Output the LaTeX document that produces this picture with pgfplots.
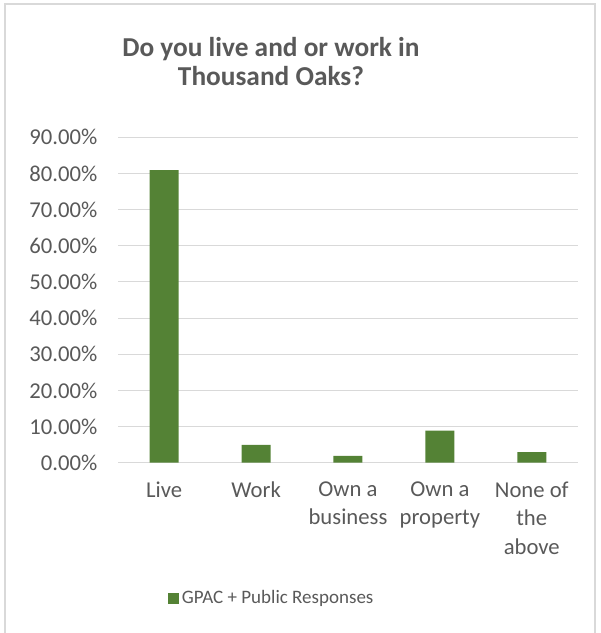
\documentclass[border=0pt]{standalone}
\usepackage{fontspec}
\setmainfont{Carlito}
\usepackage{pgfplots}
\pgfplotsset{compat=1.18}
\definecolor{barg}{HTML}{548235}
\definecolor{txtg}{HTML}{595959}
\definecolor{gridg}{HTML}{D9D9D9}
\begin{document}
\begin{tikzpicture}
\path[use as bounding box] (-88.7pt,-127.7pt) rectangle (361.3pt,347.0pt);
\draw[gridg, line width=1.2pt] (-85pt,-140pt) rectangle (357.5pt,344pt);
\begin{axis}[
  at={(0pt,0pt)}, anchor=south west,
  scale only axis, width=344.55pt, height=244.1pt,
  xmin=-0.5, xmax=4.5, ymin=0, ymax=90,
  xtick={0,1,2,3,4},
  xticklabels={Live, Work, {Own a\\business}, {Own a\\property}, {None of\\the\\above}},
  ytick={0,10,20,30,40,50,60,70,80,90},
  yticklabels={0.00\%,10.00\%,20.00\%,30.00\%,40.00\%,50.00\%,60.00\%,70.00\%,80.00\%,90.00\%},
  /pgf/number format/assume math mode=true,
  major tick length=0pt,
  ymajorgrids, grid style={gridg, line width=0.75pt},
  axis x line*=bottom,
  x axis line style={gridg, line width=0.75pt, -},
  y axis line style={draw=none},
  separate axis lines,
  yticklabel style={font=\fontsize{17}{20}\selectfont, text=txtg, anchor=east, inner sep=0pt, xshift=-15.5pt},
  xticklabel style={font=\fontsize{17}{21.4}\selectfont, text=txtg, anchor=north, align=center, inner sep=0pt, yshift=-14pt},
  legend style={at={(0.335,-0.416)}, anchor=center, draw=none, fill=none,
    font=\fontsize{14.25}{17}\selectfont, text=txtg,
    /tikz/every even column/.append style={column sep=0pt}},
  legend image code/.code={\fill[barg] (0pt,-4.1pt) rectangle (8.25pt,4.1pt);},
  legend cell align=left,
]
\addplot[ybar, bar width=21.75pt, fill=barg, draw=none] coordinates {
  (0,80.9) (1,4.9) (2,1.9) (3,8.9) (4,2.9)
};
\addlegendentry{GPAC + Public Responses}
\end{axis}
\node[anchor=base, font=\fontsize{20.5}{23}\selectfont\bfseries, text=txtg] at (114.5pt,305pt) {Do you live and or work in};
\node[anchor=base, font=\fontsize{20.5}{23}\selectfont\bfseries, text=txtg] at (114.5pt,283pt) {Thousand Oaks?};
\end{tikzpicture}
\end{document}
